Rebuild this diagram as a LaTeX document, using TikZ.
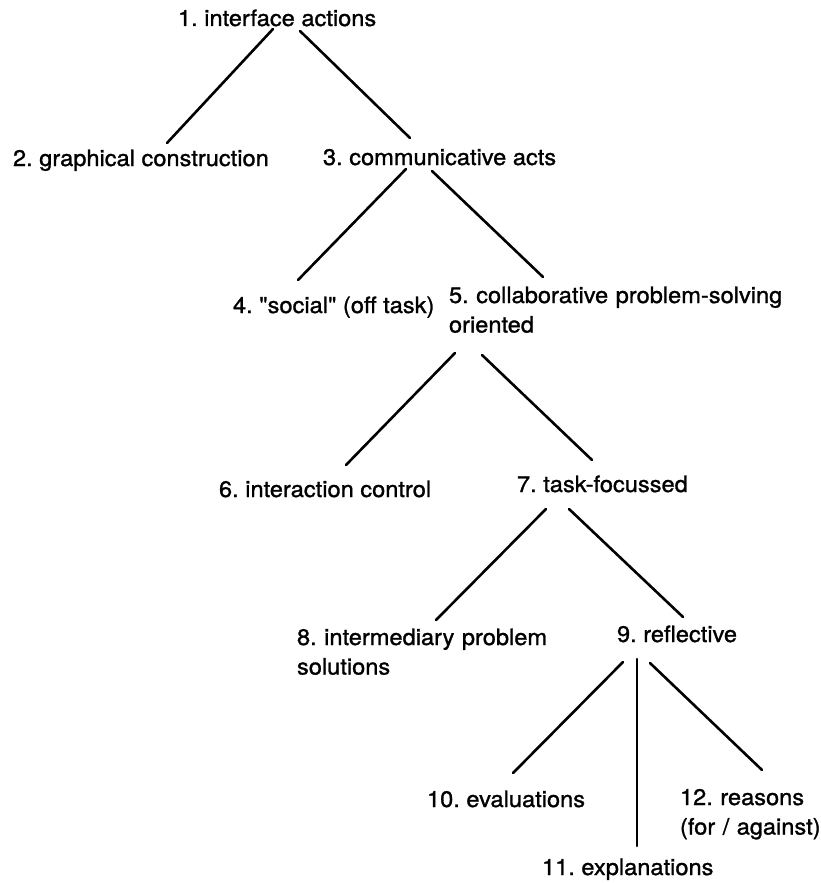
\documentclass[tikz,border=0pt]{standalone}
\usepackage{fontspec}
\setmainfont{TeX Gyre Heros}[FakeStretch=1.05,FakeBold=1.2,Ligatures=TeXOff]
\frenchspacing
\begin{document}
\begin{tikzpicture}[x=1pt,y=-1pt,
  lbl/.style={anchor=base west,inner sep=0pt,outer sep=0pt,align=left,
    font=\fontsize{22.5}{29.5}\selectfont},
  edge/.style={line width=2.6pt,line cap=round}]
\useasboundingbox (0,0) rectangle (820,883);
\node[lbl] (n1) at (178,26) {1. interface actions};
\node[lbl] (n2) at (13,166) {2. graphical construction};
\node[lbl] (n3) at (323,165) {3. communicative acts};
\node[lbl] (n4) at (233,313) {4. "social" (off task)};
\node[lbl,text width=400pt] (n5) at (449,303) {5. collaborative problem-solving\\oriented};
\node[lbl,text width=320pt] (n8) at (297,645) {8. intermediary problem\\solutions};
\node[lbl] (n6) at (219,497) {6. interaction control};
\node[lbl] (n7) at (517,492) {7. task-focussed};
\node[lbl] (n9) at (617,642) {9. reflective};
\node[lbl] (n10) at (427,807) {10. evaluations};
\node[lbl] (n11) at (542,875) {11. explanations};
\node[lbl,text width=200pt] (n12) at (680,805) {12. reasons\\(for / against)};
\draw[edge] ([shift={(95,3)}]n1.base west) -- ([shift={(154,-23)}]n2.base west);
\draw[edge] ([shift={(122,5)}]n1.base west) -- ([shift={(87,-27)}]n3.base west);
\draw[edge] ([shift={(83,4)}]n3.base west) -- ([shift={(65,-33)}]n4.base west);
\draw[edge] ([shift={(109,6)}]n3.base west) -- ([shift={(94,-26)}]n5.base west);
\draw[edge] ([shift={(6,50)}]n5.base west) -- ([shift={(127,-32)}]n6.base west);
\draw[edge] ([shift={(33,52)}]n5.base west) -- ([shift={(75,-32)}]n7.base west);
\draw[edge] ([shift={(29,17)}]n7.base west) -- ([shift={(139,-25)}]n8.base west);
\draw[edge] ([shift={(52,17)}]n7.base west) -- ([shift={(66,-25)}]n9.base west);
\draw[edge] ([shift={(6,20)}]n9.base west) -- ([shift={(86,-34)}]n10.base west);
\draw[edge] ([shift={(20,17)}]n9.base west) -- ([shift={(95,-29)}]n11.base west);
\draw[edge] ([shift={(33,21)}]n9.base west) -- ([shift={(82,-35)}]n12.base west);
\end{tikzpicture}
\end{document}
